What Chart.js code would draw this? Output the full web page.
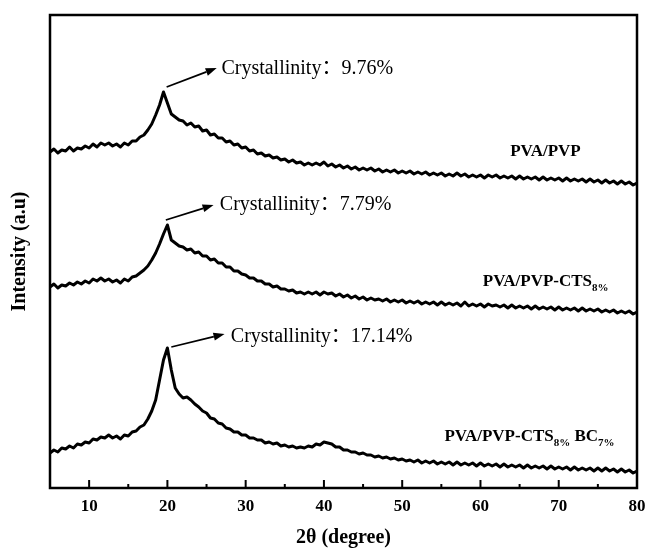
<!DOCTYPE html>
<html><head><meta charset="utf-8">
<script src="https://cdn.jsdelivr.net/npm/chart.js@4.4.0/dist/chart.umd.min.js"></script>
<style>html,body{margin:0;padding:0;background:#fff}</style>
</head><body>
<canvas id="c" width="647" height="552" style="width:647px;height:552px;display:block"></canvas>
<script>
// 2θ positions (degree)
const angles = [5,5.5,6,6.5,7,7.5,8,8.5,9,9.5,10,10.5,11,11.5,12,12.5,13,13.5,14,14.5,15,15.5,16,16.5,17,17.5,18,18.5,19,19.5,20,20.5,21,21.5,22,22.5,23,23.5,24,24.5,25,25.5,26,26.5,27,27.5,28,28.5,29,29.5,30,30.5,31,31.5,32,32.5,33,33.5,34,34.5,35,35.5,36,36.5,37,37.5,38,38.5,39,39.5,40,40.5,41,41.5,42,42.5,43,43.5,44,44.5,45,45.5,46,46.5,47,47.5,48,48.5,49,49.5,50,50.5,51,51.5,52,52.5,53,53.5,54,54.5,55,55.5,56,56.5,57,57.5,58,58.5,59,59.5,60,60.5,61,61.5,62,62.5,63,63.5,64,64.5,65,65.5,66,66.5,67,67.5,68,68.5,69,69.5,70,70.5,71,71.5,72,72.5,73,73.5,74,74.5,75,75.5,76,76.5,77,77.5,78,78.5,79,79.5,80];

// Intensity (a.u., stacked offsets)
const pvaPvp = [336,339,335,338,337,341,337,340,339,342,
340,344,341,345,343,345,342,344,341,345,
343,347,347,351,353,358,364,373,383,396,
385,374,371,368,367,363,365,361,362,357,
358,353,354,350,350,346,347,343,344,340,
341,337,338,334,335,332,333,330,331,328,
329,326,328,325,326,323,325,323,325,323,
326,322,324,321,323,320,322,319,321,318,
320,318,320,317,319,316,318,316,318,315,
317,315,317,314,316,314,316,313,315,313,
315,312,314,312,315,312,314,311,313,311,
313,310,313,311,313,310,312,310,312,309,
312,309,311,309,311,308,311,308,310,308,
310,307,310,307,309,307,309,306,309,306,
308,305,308,305,307,304,307,304,306,303,
305];

const pvaPvpCts = [201,204,200,203,202,205,203,206,204,207,
205,209,207,210,207,209,206,208,205,209,
207,211,212,215,218,222,228,235,244,254,
263,248,245,242,241,238,239,235,236,232,
232,228,229,225,225,221,221,217,217,214,
213,210,210,207,207,204,204,201,202,199,
199,197,198,195,196,194,196,194,196,193,
196,194,195,192,194,191,193,190,192,189,
191,188,190,188,189,187,189,186,188,186,
188,185,187,185,187,184,186,184,186,183,
186,183,185,183,185,182,186,182,184,182,
184,181,184,182,183,181,183,180,183,180,
182,180,182,179,182,179,181,179,181,178,
181,178,180,178,180,177,180,177,179,177,
179,176,178,176,178,175,177,175,177,174,
176];

const pvaPvpCtsBc = [35,38,36,40,39,42,40,44,43,46,
45,49,48,51,50,53,50,52,49,53,
52,56,57,61,63,69,77,88,108,128,
140,118,100,94,90,91,88,84,81,77,
75,70,69,65,64,60,59,56,56,53,
53,50,50,48,48,45,46,44,45,42,
43,41,42,40,41,40,42,41,44,43,
46,45,44,41,41,38,38,36,36,34,
35,33,33,31,32,30,31,29,30,28,
29,27,28,26,28,25,27,25,27,24,
26,24,26,23,26,23,25,23,25,22,
25,22,24,22,24,21,24,21,23,21,
23,20,23,20,22,20,22,19,22,19,
21,19,21,18,21,18,20,18,20,17,
20,17,20,17,19,16,19,16,18,15,
17];

const majorTicks = [10,20,30,40,50,60,70,80];
const minorTicks = [15,25,35,45,55,65,75];
const crystallinity = ['9.76%','7.79%','17.14%'];
const sampleNames = [
  [['PVA/PVP',false]],
  [['PVA/PVP-CTS',false],['8%',true]],
  [['PVA/PVP-CTS',false],['8%',true],[' BC',false],['7%',true]]
];

const SERIF = "'Liberation Serif','Times New Roman',serif";
const pts = arr => angles.map((a,i)=>({x:a,y:arr[i]}));

function arrow(ctx, x1,y1,x2,y2){
  const ang = Math.atan2(y2-y1,x2-x1), L=11, W=4;
  const bx = x2 - L*Math.cos(ang), by = y2 - L*Math.sin(ang);
  ctx.beginPath(); ctx.moveTo(x1,y1); ctx.lineTo(bx,by); ctx.stroke();
  ctx.beginPath();
  ctx.moveTo(x2,y2);
  ctx.lineTo(bx + W*Math.sin(ang), by - W*Math.cos(ang));
  ctx.lineTo(bx - W*Math.sin(ang), by + W*Math.cos(ang));
  ctx.closePath(); ctx.fill();
}

const decor = {
  id:'decor',
  afterDraw(chart){
    const {ctx, chartArea:a, scales:{x,y}} = chart;
    ctx.save();
    ctx.strokeStyle='#000'; ctx.fillStyle='#000';
    ctx.lineWidth=2.5;
    ctx.strokeRect(a.left,a.top,a.right-a.left,a.bottom-a.top);
    ctx.lineWidth=2;
    ctx.beginPath();
    majorTicks.forEach(v=>{const p=x.getPixelForValue(v); ctx.moveTo(p,a.bottom); ctx.lineTo(p,a.bottom-8);});
    minorTicks.forEach(v=>{const p=x.getPixelForValue(v); ctx.moveTo(p,a.bottom); ctx.lineTo(p,a.bottom-4);});
    ctx.stroke();

    // crystallinity annotations: [arrow start, arrow end, text anchor] in data units
    const ann = [
      [[19.9,401],[26.3,420],[26.9,419]],
      [[19.8,268],[25.9,283],[26.7,283]],
      [[20.5,141],[27.3,154],[28.1,151]]
    ];
    ctx.lineWidth=1.8;
    ctx.font = "20px "+SERIF+",'Noto Sans CJK SC'";
    ctx.textBaseline='middle'; ctx.textAlign='left';
    ann.forEach((an,i)=>{
      arrow(ctx, x.getPixelForValue(an[0][0]), y.getPixelForValue(an[0][1]),
                 x.getPixelForValue(an[1][0]), y.getPixelForValue(an[1][1]));
      ctx.fillText('Crystallinity：'+crystallinity[i], x.getPixelForValue(an[2][0]), y.getPixelForValue(an[2][1]));
    });

    // sample names
    const namePos = [[63.8,336],[60.3,206],[55.4,51]];
    sampleNames.forEach((parts,i)=>{
      let px = x.getPixelForValue(namePos[i][0]);
      const py = y.getPixelForValue(namePos[i][1]);
      parts.forEach(([t,sub])=>{
        ctx.font = (sub ? "bold 11px " : "bold 17px ") + SERIF;
        ctx.fillText(t, px, sub ? py+6 : py);
        px += ctx.measureText(t).width;
      });
    });
    ctx.restore();
  }
};

new Chart(document.getElementById('c'), {
  type:'line',
  data:{ datasets:[
    {label:'PVA/PVP', data:pts(pvaPvp)},
    {label:'PVA/PVP-CTS8%', data:pts(pvaPvpCts)},
    {label:'PVA/PVP-CTS8% BC7%', data:pts(pvaPvpCtsBc)}
  ].map(d=>Object.assign(d,{borderColor:'#000',borderWidth:3,pointRadius:0,tension:0,fill:false,borderJoinStyle:'round'})) },
  options:{
    responsive:false, animation:false,
    layout:{padding:{top:15,right:0,left:0,bottom:0}},
    plugins:{legend:{display:false},tooltip:{enabled:false}},
    scales:{
      x:{type:'linear',min:5,max:80,
        afterBuildTicks(s){ s.ticks = majorTicks.map(v=>({value:v})); },
        afterFit(s){ s.height = 64; s.paddingRight = 10; s.paddingLeft = 0; },
        grid:{display:false,drawTicks:false}, border:{display:false},
        ticks:{padding:8,color:'#000',font:{family:SERIF,size:17,weight:'bold'}},
        title:{display:true,text:'2θ (degree)',color:'#000',padding:{top:0,bottom:2},font:{family:SERIF,size:20,weight:'bold'}}
      },
      y:{min:0,max:473,
        afterFit(s){ s.width = 50; s.paddingTop = 0; s.paddingBottom = 0; },
        grid:{display:false,drawTicks:false}, border:{display:false},
        ticks:{display:false},
        title:{display:true,text:'Intensity (a.u)',color:'#000',padding:{top:8,bottom:0},font:{family:SERIF,size:20,weight:'bold'}}
      }
    }
  },
  plugins:[decor]
});
</script>
</body></html>
